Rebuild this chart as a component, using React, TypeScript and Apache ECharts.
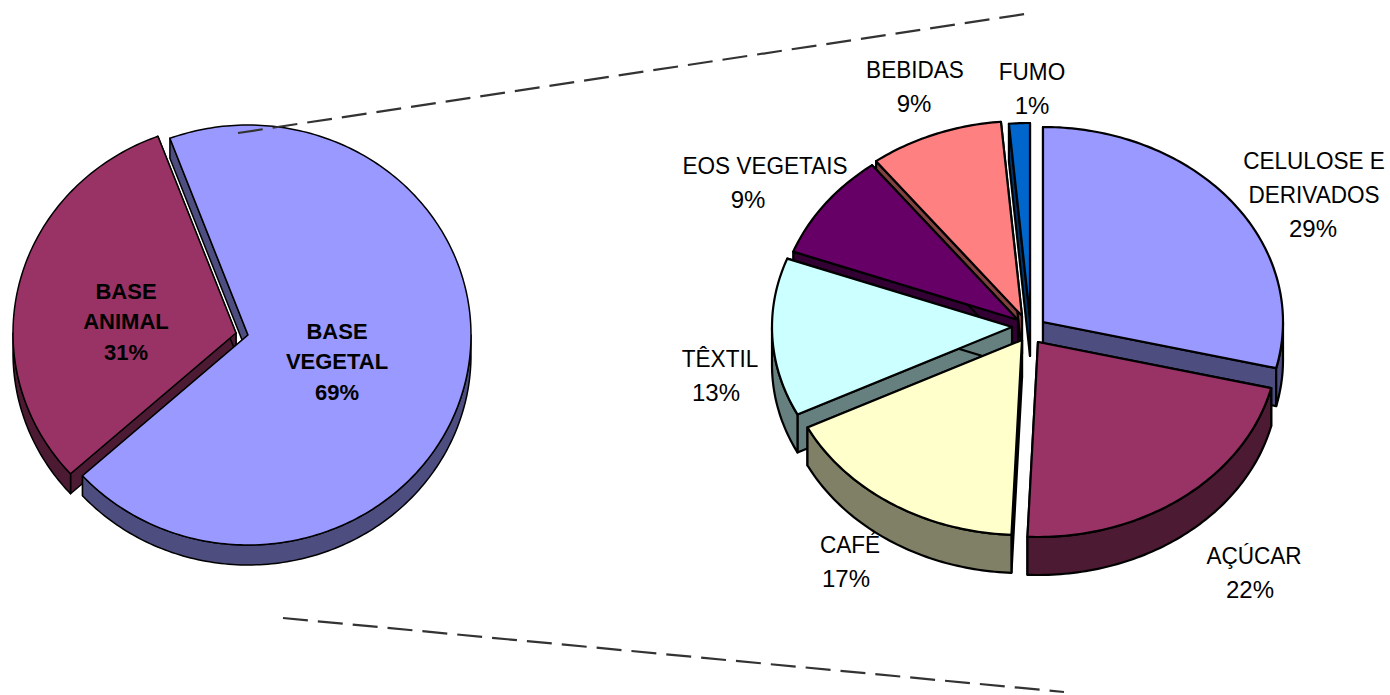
import React, { useEffect, useRef } from "react";
import * as echarts from "echarts";

// ---------- data ----------
const baseNames = ["BASE VEGETAL", "BASE ANIMAL"];
const baseValues = [69, 31];
const baseColors = ["#9999FF", "#993366"];
const baseSides = ["#4D4D80", "#4D1A33"];
const baseLabelLines = [["BASE", "VEGETAL"], ["BASE", "ANIMAL"]];

const vegNames = ["CELULOSE E DERIVADOS", "AÇÚCAR", "CAFÉ", "TÊXTIL", "EOS VEGETAIS", "BEBIDAS", "FUMO"];
const vegValues = [28.8, 21.9, 16.9, 13.1, 8.9, 9.0, 1.4];
const vegColors = ["#9999FF", "#993366", "#FFFFCC", "#CCFFFF", "#660066", "#FF8080", "#0066CC"];
const vegSides = ["#4D4D80", "#4D1A33", "#808066", "#668080", "#330033", "#804040", "#003366"];
const vegLabelLines = [["CELULOSE E", "DERIVADOS"], ["AÇÚCAR"], ["CAFÉ"], ["TÊXTIL"], ["EOS VEGETAIS"], ["BEBIDAS"], ["FUMO"]];

// ---------- layout ----------
const baseLayout = {
  rx: 223, ry: 210, depth: 20, start: 339.5, lineWidth: 1.5,
  apex: [[248, 335], [236, 333]],
  paint: [1, 0],
  labelFont: "bold 22px 'Liberation Sans', Arial, sans-serif",
  labelScale: 1, lineH: 30.5,
  labelPos: [[337, 331], [126, 291]],
  percentDx: [0, 0],
};
const vegLayout = {
  rx: 240, ry: 195, depth: 38, start: 0, lineWidth: 2.2,
  apex: [[1043, 322], [1038, 342], [1022, 340], [1012, 327], [1018, 320], [1022, 316], [1030, 318]],
  paint: [5, 6, 4, 3, 2, 1, 0],
  labelFont: "24px 'Liberation Sans', Arial, sans-serif",
  labelScale: 0.94, lineH: 33.5,
  labelPos: [[1314, 161], [1254, 556], [850, 545], [720, 359], [765, 166], [915, 70], [1032, 72]],
  percentDx: [-1, -4, -4, -4, -17, -1, 0],
};

const dashedLines = [
  [238, 133, 1025, 14],
  [283, 618, 1064, 692],
];

const rad = (d: number) => (d * Math.PI) / 180;

function pieSeries(names: string[], values: number[], colors: string[], sides: string[], labelLines: string[][], L: any) {
  const total = values.reduce((a, b) => a + b, 0);
  const starts: number[] = [];
  let acc = L.start;
  values.forEach((v) => {
    starts.push(acc);
    acc += (v / total) * 360;
  });
  const pt = (i: number, a: number, dy = 0) => [
    L.apex[i][0] + L.rx * Math.sin(rad(a)),
    L.apex[i][1] - L.ry * Math.cos(rad(a)) + dy,
  ];
  const arc = (i: number, a0: number, a1: number, dy = 0) => {
    const n = Math.max(2, Math.ceil(a1 - a0));
    const out: number[][] = [];
    for (let k = 0; k <= n; k++) out.push(pt(i, a0 + ((a1 - a0) * k) / n, dy));
    return out;
  };
  return {
    type: "custom",
    coordinateSystem: "none",
    silent: true,
    data: values.map((v, i) => ({ name: names[i], value: [v, i] })),
    renderItem: (_p: any, api: any) => {
      const i = api.value(1);
      const v = api.value(0);
      const a0 = starts[i];
      const a1 = a0 + (v / total) * 360;
      const rank = L.paint[i] * 10;
      const [ax, ay] = L.apex[i];
      const style = (fill: string) => ({ fill, stroke: "#000", lineWidth: L.lineWidth, lineJoin: "round" });
      const children: any[] = [];
      // radial cut walls
      [a0, a1].forEach((a) => {
        const e = pt(i, a);
        const w = [[ax, ay], e, [e[0], e[1] + L.depth], [ax, ay + L.depth]];
        children.push({ type: "polygon", z2: rank, shape: { points: w }, style: style(sides[i]) });
      });
      // outer rim, only on the front half of the ellipse
      [0, 360].forEach((k) => {
        const f0 = Math.max(a0, 90 + k);
        const f1 = Math.min(a1, 270 + k);
        if (f1 > f0) {
          const pts = arc(i, f0, f1).concat(arc(i, f0, f1, L.depth).reverse());
          children.push({ type: "polygon", z2: rank + 1, shape: { points: pts }, style: style(sides[i]) });
        }
      });
      // top face
      children.push({
        type: "polygon",
        z2: rank + 2,
        shape: { points: [[ax, ay], ...arc(i, a0, a1)] },
        style: style(colors[i]),
      });
      // label
      const [lx, ly] = L.labelPos[i];
      const lines = labelLines[i];
      lines.forEach((t, n) => {
        children.push({
          type: "text", z2: 200, x: lx, y: ly + n * L.lineH, scaleX: L.labelScale,
          style: { text: t, font: L.labelFont, fill: "#000", align: "center", verticalAlign: "middle" },
        });
      });
      children.push({
        type: "text", z2: 200, x: lx + L.percentDx[i], y: ly + lines.length * L.lineH,
        style: { text: `${Math.round((v / total) * 100)}%`, font: L.labelFont, fill: "#000", align: "center", verticalAlign: "middle" },
      });
      return { type: "group", children };
    },
  };
}

export default function App() {
  const ref = useRef<HTMLDivElement>(null);
  useEffect(() => {
    document.body.style.margin = "0";
    const chart = echarts.init(ref.current!, null, { renderer: "svg" });
    chart.setOption({
      animation: false,
      backgroundColor: "#fff",
      series: [
        pieSeries(baseNames, baseValues, baseColors, baseSides, baseLabelLines, baseLayout),
        pieSeries(vegNames, vegValues, vegColors, vegSides, vegLabelLines, vegLayout),
      ],
      graphic: dashedLines.map(([x1, y1, x2, y2]) => ({
        type: "line",
        z: 100,
        shape: { x1, y1, x2, y2 },
        style: { stroke: "#333", lineWidth: 2.2, lineDash: [25, 10] },
      })),
    });
    return () => chart.dispose();
  }, []);
  return <div ref={ref} style={{ width: 1390, height: 695 }} />;
}
